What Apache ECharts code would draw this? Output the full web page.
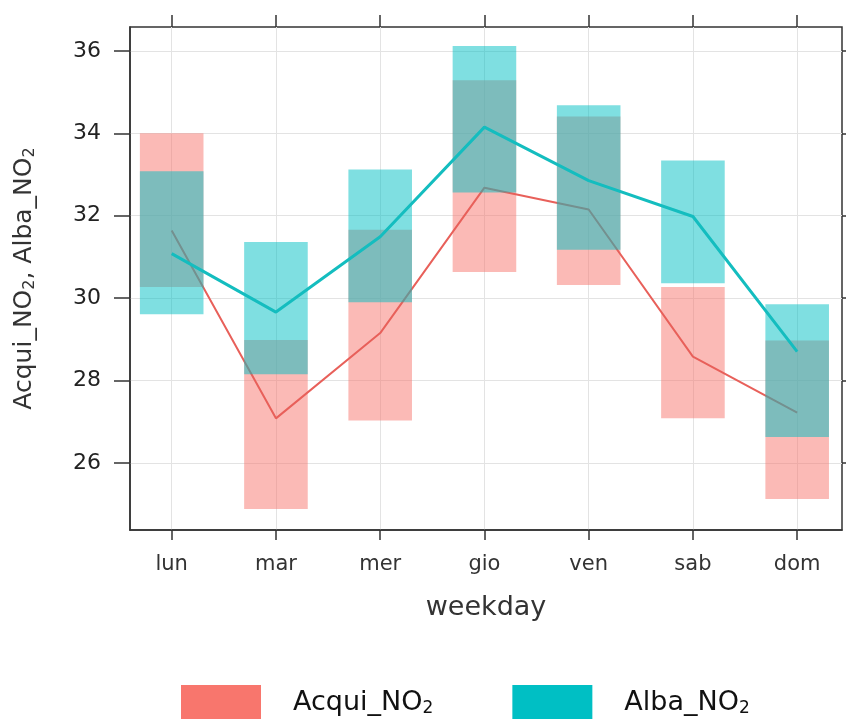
<!DOCTYPE html>
<html>
<head>
<meta charset="utf-8">
<script src="https://cdn.jsdelivr.net/npm/echarts@6/dist/echarts.min.js"></script>
<style>
  html, body { margin: 0; padding: 0; background: #fff; }
  #main { width: 846px; height: 719px; }
</style>
</head>
<body>
<div id="main"></div>
<script>
// giorni della settimana
var days = ['lun', 'mar', 'mer', 'gio', 'ven', 'sab', 'dom'];
var yTicks = [26, 28, 30, 32, 34, 36];

// medie
var acquiMean = [31.64, 27.08, 29.15, 32.68, 32.15, 28.58, 27.22];
var albaMean = [31.08, 29.66, 31.49, 34.15, 32.85, 31.98, 28.70];

// intervalli (basso, alto)
var acquiLow = [30.27, 24.88, 27.03, 30.63, 30.32, 27.08, 25.12];
var acquiHigh = [34.00, 28.98, 31.66, 35.29, 34.41, 30.27, 28.97];
var albaLow = [29.61, 28.15, 29.90, 32.56, 31.17, 30.36, 26.63];
var albaHigh = [33.08, 31.36, 33.12, 36.12, 34.68, 33.34, 29.85];

var pink = '#F8766D';
var teal = '#00BFC4';

function rangeData(low, high) {
  return days.map(function (d, i) { return [i + 1, low[i], high[i]]; });
}
function lineData(vals) {
  return days.map(function (d, i) { return [i + 1, vals[i]]; });
}
function renderRect(params, api) {
  var x = api.value(0);
  var p1 = api.coord([x, api.value(2)]);
  var p2 = api.coord([x, api.value(1)]);
  var w = api.size([1, 0])[0] * 0.61;
  return {
    type: 'rect',
    shape: { x: p1[0] - w / 2, y: p1[1], width: w, height: p2[1] - p1[1] },
    style: { fill: api.visual('color'), opacity: 0.5 }
  };
}

var chart = echarts.init(document.getElementById('main'));
var font = 'DejaVu Sans, sans-serif';

chart.setOption({
  animation: false,
  textStyle: { fontFamily: font },
  grid: {
    left: 130, top: 27, right: 4, bottom: 189,
    show: true, borderColor: '#333', borderWidth: 1.5,
    outerBoundsMode: 'none'
  },
  legend: {
    top: 680,
    left: 176,
    itemWidth: 80,
    itemHeight: 40,
    itemGap: 79,
    icon: 'rect',
    data: [
      { name: 'Acqui_NO2', itemStyle: { color: pink, opacity: 1 } },
      { name: 'Alba_NO2', itemStyle: { color: teal, opacity: 1 } }
    ],
    formatter: function (n) { return n.replace('2', '{sub|2}'); },
    textStyle: {
      fontSize: 27, color: '#111', padding: [0, 0, 4, 27],
      rich: { sub: { fontSize: 17, padding: [12, 0, 0, 0] } }
    }
  },
  xAxis: [{
    type: 'value',
    min: 0.6, max: 7.43,
    name: 'weekday',
    nameLocation: 'middle',
    nameGap: 64,
    nameTextStyle: { fontSize: 27, color: '#333' },
    axisLine: { show: true, lineStyle: { color: '#333', width: 1.5 } },
    axisTick: { show: true, length: 10, customValues: [1, 2, 3, 4, 5, 6, 7], lineStyle: { color: '#333', width: 1.5 } },
    axisLabel: {
      customValues: [1, 2, 3, 4, 5, 6, 7],
      formatter: function (v) { return days[Math.round(v) - 1]; },
      fontSize: 21, color: '#333', margin: 24
    },
    splitLine: { show: true, lineStyle: { color: '#e3e3e3', width: 1 } }
  }, {
    type: 'value',
    position: 'top',
    min: 0.6, max: 7.43,
    axisLine: { show: false },
    axisTick: { show: true, length: 12, customValues: [1, 2, 3, 4, 5, 6, 7], lineStyle: { color: '#333', width: 1.5 } },
    axisLabel: { show: false },
    splitLine: { show: false }
  }],
  yAxis: [{
    type: 'value',
    min: 24.37, max: 36.58,
    name: 'Acqui_NO{sub|2}, Alba_NO{sub|2}',
    nameLocation: 'middle',
    nameGap: 92,
    nameTextStyle: {
      fontSize: 25, color: '#333',
      rich: { sub: { fontSize: 16, padding: [11, 0, 0, 0] } }
    },
    axisLine: { show: true, lineStyle: { color: '#333', width: 1.5 } },
    axisTick: { show: true, length: 16, customValues: yTicks, lineStyle: { color: '#333', width: 1.5 } },
    axisLabel: { customValues: yTicks, fontSize: 22, color: '#222', margin: 29 },
    splitLine: { show: true, lineStyle: { color: '#e3e3e3', width: 1 } }
  }, {
    type: 'value',
    position: 'right',
    min: 24.37, max: 36.58,
    axisLine: { show: false },
    axisTick: { show: true, length: 8, customValues: yTicks, lineStyle: { color: '#333', width: 1.5 } },
    axisLabel: { show: false },
    splitLine: { show: false }
  }],
  series: [{
    name: 'Acqui_NO2',
    type: 'custom',
    z: 2,
    color: pink,
    renderItem: renderRect,
    encode: { x: 0, y: [1, 2] },
    data: rangeData(acquiLow, acquiHigh)
  }, {
    name: 'Acqui mean',
    type: 'line',
    z: 3,
    symbol: 'none',
    lineStyle: { color: '#E8605A', width: 2 },
    data: lineData(acquiMean)
  }, {
    name: 'Alba_NO2',
    type: 'custom',
    z: 4,
    color: teal,
    renderItem: renderRect,
    encode: { x: 0, y: [1, 2] },
    data: rangeData(albaLow, albaHigh)
  }, {
    name: 'Alba mean',
    type: 'line',
    z: 5,
    symbol: 'none',
    lineStyle: { color: '#14BDBF', width: 3 },
    data: lineData(albaMean)
  }]
});
</script>
</body>
</html>
